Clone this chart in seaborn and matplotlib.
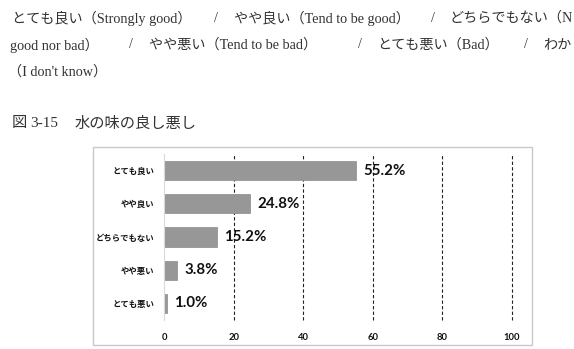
import matplotlib
matplotlib.use("Agg")
import matplotlib.pyplot as plt
import seaborn as sns
import pandas as pd
from matplotlib.patches import Rectangle

categories = ["とても良い", "やや良い", "どちらでもない", "やや悪い", "とても悪い"]
values = [55.2, 24.8, 15.2, 3.8, 1.0]
value_labels = ["55.2%", "24.8%", "15.2%", "3.8%", "1.0%"]
x_ticks = [0, 20, 40, 60, 80, 100]

line1 = [("とても良い（Strongly good）", 12), ("/", 214),
         ("やや良い（Tend to be good）", 234), ("/", 431),
         ("どちらでもない（N", 450)]
line2 = [("good nor bad）", 10), ("/", 129), ("やや悪い（Tend to be bad）", 149),
         ("/", 358), ("とても悪い（Bad）", 377), ("/", 524), ("わか", 543)]
line3 = [("（I don't know）", 8)]
caption = [("図", 12), ("3‐15", 30), ("水の味の良し悪し", 75)]

sns.set_theme(style="white")
plt.rcParams['font.family'] = ['Noto Sans CJK JP', 'DejaVu Sans']

W, H = 574, 349
fig = plt.figure(figsize=(W / 100, H / 100), dpi=100)

def px(x, y):
    return x / W, 1 - y / H

txt_fam = ['Liberation Serif', 'Noto Sans CJK JP']
for segs, yy in [(line1, 18), (line2, 45), (line3, 72)]:
    for s, xx in segs:
        fig.text(*px(xx, yy), s, ha='left', va='center', fontsize=10.2,
                 family=txt_fam, color='#333333')
for s, xx in caption:
    fig.text(*px(xx, 124), s, ha='left', va='center', fontsize=11,
             family=txt_fam, color='#333333')

# chart border
fig.patches.append(Rectangle(px(93, 345), (532 - 93) / W, (345 - 147) / H,
                             transform=fig.transFigure, fill=False,
                             edgecolor='#c8c8c8', lw=1.0))

ax = fig.add_axes([164 / W, 1 - 320 / H, (512 - 164) / W, (320 - 154) / H])
df = pd.DataFrame({"cat": categories, "val": values})
sns.barplot(data=df, x="val", y="cat", orient="h", color="#979797",
            width=0.58, ax=ax, saturation=1, edgecolor="#8a8a8a", linewidth=0.5)
ax.set_xlim(0, 100)
ax.set_xticks(x_ticks)
num_fam = ['Lato', 'Liberation Sans', 'DejaVu Sans']
ax.set_xticklabels([str(t) for t in x_ticks], fontsize=6.8, fontweight='bold',
                   family=num_fam, color='#111111')
ax.set_xlabel("")
ax.set_ylabel("")
for lab in ax.get_yticklabels():
    lab.set_fontsize(6)
    lab.set_fontweight('bold')
    lab.set_color('#111111')
ax.tick_params(axis='x', length=0, pad=9)
ax.tick_params(axis='y', length=0, pad=7)
for t in x_ticks[1:]:
    ax.axvline(t, color='#222222', lw=0.8, ls=(0, (3, 2)), zorder=0, clip_on=False)
for s in ['top', 'right', 'bottom']:
    ax.spines[s].set_visible(False)
ax.spines['left'].set_color('#d9d9d9')
ax.spines['left'].set_linewidth(0.8)
ax.set_facecolor('none')

for i, (v, lbl) in enumerate(zip(values, value_labels)):
    ax.annotate(lbl, (v, i), xytext=(5, 0), textcoords='offset points',
                ha='left', va='center', fontsize=10.8, fontweight='bold',
                family=num_fam, color='#111111')

fig.savefig("out.png", dpi=100)
